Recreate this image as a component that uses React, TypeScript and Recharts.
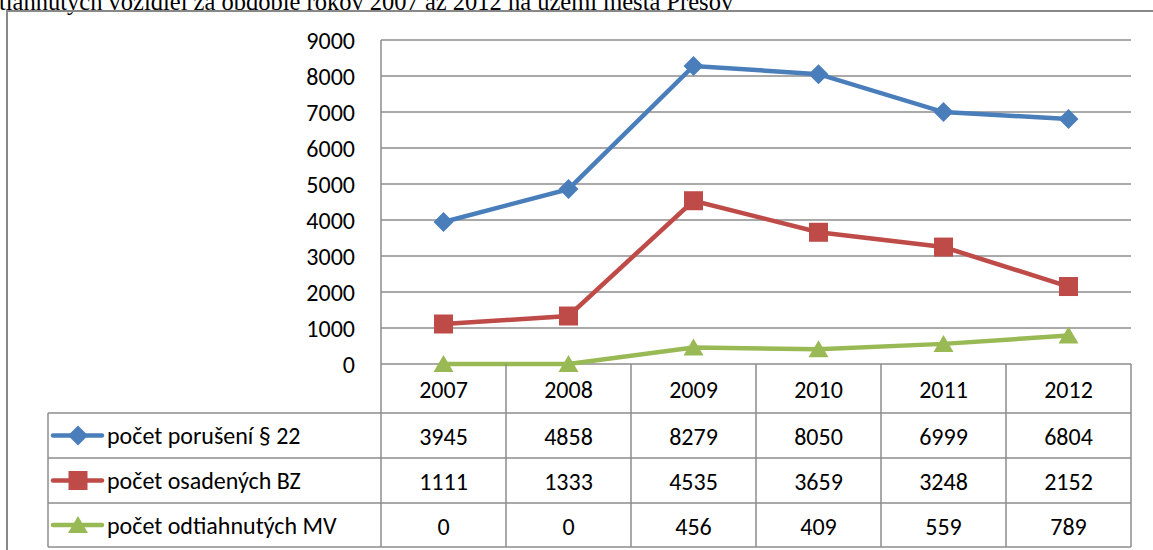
import { CartesianGrid, Line, LineChart, XAxis, YAxis } from "recharts";

const years = ["2007", "2008", "2009", "2010", "2011", "2012"];
const porusenia = [3945, 4858, 8279, 8050, 6999, 6804];
const osadeneBZ = [1111, 1333, 4535, 3659, 3248, 2152];
const odtiahnuteMV = [0, 0, 456, 409, 559, 789];
const yTicks = [0, 1000, 2000, 3000, 4000, 5000, 6000, 7000, 8000, 9000];

const seriesInfo = [
  { key: "porusenia", name: "počet porušení § 22", color: "#4a7ebb", shape: "diamond", values: porusenia },
  { key: "osadene", name: "počet osadených BZ", color: "#be4b48", shape: "square", values: osadeneBZ },
  { key: "odtiahnute", name: "počet odtiahnutých MV", color: "#98b954", shape: "triangle", values: odtiahnuteMV },
];

const data = years.map((y, i) => ({
  year: y,
  porusenia: porusenia[i],
  osadene: osadeneBZ[i],
  odtiahnute: odtiahnuteMV[i],
}));

const W = 1153;
const H = 550;
const PLOT_LEFT = 381;
const PLOT_RIGHT = 1131;
const PLOT_TOP = 40;
const PLOT_BOTTOM = 364;
const COL_W = (PLOT_RIGHT - PLOT_LEFT) / years.length;
const ROW_LINES = [413, 458, 503, 547];
const TABLE_LEFT = 48;
const GRID = "#8c8c8c";
const FONT = "Carlito, Calibri, Lato, sans-serif";
const FS = 24;

function Marker({ shape, cx, cy, color }: { shape: string; cx: number; cy: number; color: string }) {
  if (cx == null || cy == null) return null;
  if (shape === "diamond") {
    const r = 10;
    return <polygon points={`${cx},${cy - r} ${cx + r},${cy} ${cx},${cy + r} ${cx - r},${cy}`} fill={color} />;
  }
  if (shape === "square") {
    return <rect x={cx - 9.5} y={cy - 9.5} width={19} height={19} fill={color} />;
  }
  return <polygon points={`${cx},${cy - 9} ${cx + 10},${cy + 8} ${cx - 10},${cy + 8}`} fill={color} />;
}

function TableColumn(props: any) {
  const { x, payload } = props;
  const i = payload.index;
  const rowMid = [389, 436, 481, 526];
  return (
    <g>
      <line x1={x + COL_W / 2} y1={PLOT_BOTTOM} x2={x + COL_W / 2} y2={ROW_LINES[3]} stroke={GRID} strokeWidth={1.5} />
      {i === 0 && (
        <line x1={x - COL_W / 2} y1={PLOT_BOTTOM} x2={x - COL_W / 2} y2={ROW_LINES[3]} stroke={GRID} strokeWidth={1.5} />
      )}
      <text x={x} y={rowMid[0]} textAnchor="middle" dominantBaseline="central" fontSize={FS} fontFamily={FONT} fill="#000">
        {years[i]}
      </text>
      {seriesInfo.map((s, r) => (
        <text key={s.key} x={x} y={rowMid[r + 1]} textAnchor="middle" dominantBaseline="central" fontSize={FS} fontFamily={FONT} fill="#000">
          {s.values[i]}
        </text>
      ))}
    </g>
  );
}

export default function App() {
  return (
    <div style={{ position: "fixed", left: 0, top: 0, width: W, height: H, background: "#fff", overflow: "hidden" }}>
      <LineChart width={W} height={H} data={data} margin={{ top: PLOT_TOP, right: W - PLOT_RIGHT, bottom: 0, left: 0 }}>
        <CartesianGrid vertical={false} stroke={GRID} strokeWidth={1.5} />
        <XAxis
          dataKey="year"
          height={H - PLOT_BOTTOM}
          padding={{ left: COL_W / 2, right: COL_W / 2 }}
          axisLine={false}
          tickLine={false}
          interval={0}
          tick={<TableColumn />}
        />
        <YAxis
          width={PLOT_LEFT}
          domain={[0, 9000]}
          ticks={yTicks}
          interval={0}
          tickLine={false}
          tickSize={0}
          tickMargin={26}
          axisLine={{ stroke: GRID, strokeWidth: 1.5 }}
          tick={{ fill: "#000", fontSize: FS, fontFamily: FONT }}
        />
        {seriesInfo.map((s) => (
          <Line
            key={s.key}
            dataKey={s.key}
            stroke={s.color}
            strokeWidth={4.5}
            isAnimationActive={false}
            dot={(p: any) => <Marker key={p.index} shape={s.shape} cx={p.cx} cy={p.cy} color={s.color} />}
            activeDot={false}
          />
        ))}
      </LineChart>
      <svg width={W} height={H} style={{ position: "absolute", left: 0, top: 0, pointerEvents: "none" }}>
        <text x={-1} y={10} fontSize={24.5} fontFamily="'Liberation Serif', 'Times New Roman', serif" fill="#000">
          tiahnutých vozidiel za obdobie rokov 2007 až 2012 na území mesta Prešov
        </text>
        <path d={`M7,${H} L7,11 L${W},11`} fill="none" stroke="#888" strokeWidth={2} />
        {ROW_LINES.map((y) => (
          <line key={y} x1={TABLE_LEFT} y1={y} x2={PLOT_RIGHT} y2={y} stroke={GRID} strokeWidth={1.5} />
        ))}
        <line x1={TABLE_LEFT} y1={ROW_LINES[0]} x2={TABLE_LEFT} y2={ROW_LINES[3]} stroke={GRID} strokeWidth={1.5} />
        {seriesInfo.map((s, r) => {
          const cy = (ROW_LINES[r] + ROW_LINES[r + 1]) / 2;
          return (
            <g key={s.key}>
              <line x1={53} y1={cy} x2={102} y2={cy} stroke={s.color} strokeWidth={4.5} strokeLinecap="round" />
              <Marker shape={s.shape} cx={78} cy={cy} color={s.color} />
              <text x={107} y={cy} dominantBaseline="central" fontSize={FS} fontFamily={FONT} fill="#000">
                {s.name}
              </text>
            </g>
          );
        })}
      </svg>
    </div>
  );
}
